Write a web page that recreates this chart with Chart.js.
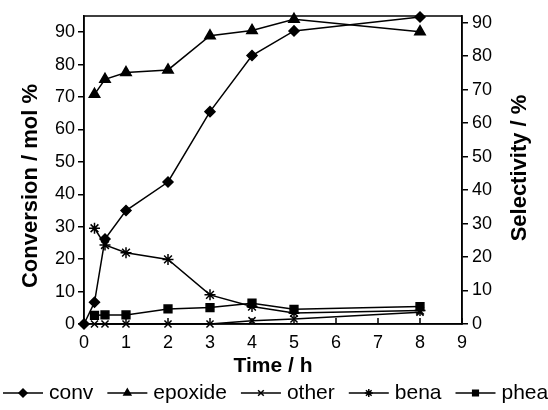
<!DOCTYPE html>
<html>
<head>
<meta charset="utf-8">
<script src="https://cdn.jsdelivr.net/npm/chart.js@4.4.0/dist/chart.umd.min.js"></script>
<style>
  body { margin: 0; background: #fff; }
</style>
</head>
<body>
<canvas id="mycanvas" width="548" height="410"></canvas>
<script>
// time in hours
var time = [0, 0.25, 0.5, 1, 2, 3, 4, 5, 8];
// conversion, mol % (left axis)
var conv = [0, 6.7, 26.2, 35, 43.8, 65.5, 82.8, 90.4, 94.7];
// selectivities, % (right axis)
var epoxide = [null, 68.6, 73.1, 75.1, 75.9, 86.1, 87.7, 91.0, 87.3];
var other = [null, 0, 0, 0, 0, 0, 1.0, 1.5, 3.5];
var bena = [null, 28.6, 23.6, 21.3, 19.3, 8.7, 5.2, 3.3, 4.0];
var phea = [null, 2.6, 2.7, 2.7, 4.5, 4.9, 6.2, 4.4, 5.2];
var yTicks = [0, 10, 20, 30, 40, 50, 60, 70, 80, 90];

var FONT = "'Liberation Sans', Arial, sans-serif";
Chart.defaults.font.family = FONT;
Chart.defaults.color = '#000';

function points(values) {
  var pts = [];
  for (var i in values) {
    if (values[i] !== null) pts.push({x: time[i], y: values[i]});
  }
  return pts;
}

function series(label, values, style, radius, axis) {
  return {
    label: label,
    data: points(values),
    yAxisID: axis,
    borderColor: '#000',
    backgroundColor: '#000',
    borderWidth: 1.5,
    pointStyle: style,
    pointRadius: radius,
    pointBorderWidth: 1.5,
    pointBackgroundColor: '#000',
    pointBorderColor: '#000',
    tension: 0,
    clip: false
  };
}

var datasets = [
  series('conv', conv, 'rectRot', 5, 'y'),
  series('epoxide', epoxide, 'triangle', 6, 'y1'),
  series('other', other, 'crossRot', 5, 'y1'),
  series('bena', bena, 'star', 5.5, 'y1'),
  series('phea', phea, 'rect', 5.5, 'y1')
];

function setTicks(scale) {
  scale.ticks = yTicks.map(function(v) { return {value: v}; });
}

function verticalTitle(ctx, text, x, y) {
  ctx.save();
  ctx.translate(x, y);
  ctx.rotate(-Math.PI / 2);
  ctx.font = 'bold 22px ' + FONT;
  ctx.fillStyle = '#000';
  ctx.textAlign = 'center';
  ctx.textBaseline = 'middle';
  ctx.fillText(text, 0, 0);
  ctx.restore();
}

var decor = {
  id: 'decor',
  beforeDatasetsDraw: function(chart) {
    var ctx = chart.ctx, a = chart.chartArea, xs = chart.scales.x;
    ctx.save();
    ctx.strokeStyle = '#000';
    ctx.lineWidth = 1.5;
    ctx.strokeRect(a.left, a.top, a.right - a.left, a.bottom - a.top);
    // inward x ticks
    xs.ticks.forEach(function(t) {
      var px = xs.getPixelForValue(t.value);
      ctx.beginPath();
      ctx.moveTo(px, a.bottom);
      ctx.lineTo(px, a.bottom - 6);
      ctx.stroke();
    });
    ctx.restore();
  },
  afterDraw: function(chart) {
    var ctx = chart.ctx;
    verticalTitle(ctx, 'Conversion / mol %', 31, 186);
    verticalTitle(ctx, 'Selectivity / %', 520, 168);

    // legend along the bottom
    ctx.save();
    ctx.font = '21px ' + FONT;
    ctx.textBaseline = 'middle';
    ctx.textAlign = 'left';
    var x = 3, y = 393;
    chart.data.datasets.forEach(function(ds) {
      ctx.strokeStyle = '#000';
      ctx.fillStyle = '#000';
      ctx.lineWidth = 1.5;
      ctx.beginPath();
      ctx.moveTo(x, y);
      ctx.lineTo(x + 40, y);
      ctx.stroke();
      Chart.helpers.drawPoint(ctx, {pointStyle: ds.pointStyle, radius: 4, rotation: 0, borderWidth: 1.5}, x + 20, y);
      ctx.fillStyle = '#000';
      ctx.fillText(ds.label, x + 46, y);
      x += 46 + ctx.measureText(ds.label).width + 14;
    });
    ctx.restore();
  }
};

var ctx = document.getElementById('mycanvas');

var chart = new Chart(ctx, {
  type: 'line',
  data: { datasets: datasets },
  plugins: [decor],
  options: {
    responsive: false,
    animation: false,
    layout: { padding: { top: 16, left: 0, right: 0, bottom: 0 } },
    plugins: { legend: { display: false }, tooltip: { enabled: false } },
    scales: {
      x: {
        type: 'linear', min: 0, max: 9,
        ticks: { stepSize: 1, color: '#000', font: { size: 18 }, padding: 8 },
        grid: { drawOnChartArea: false, drawTicks: false },
        border: { color: '#000', width: 1.5 },
        title: { display: true, text: 'Time / h', color: '#000', font: { size: 21, weight: 'bold' }, padding: { top: 0, bottom: 31 } },
        afterFit: function(s) { s.height = 86; }
      },
      y: {
        position: 'left', min: 0, max: 95,
        ticks: { color: '#000', font: { size: 18 }, padding: 3 },
        grid: { drawOnChartArea: false, color: '#000', tickLength: 6, lineWidth: 1.5 },
        border: { color: '#000', width: 1.5 },
        afterBuildTicks: setTicks,
        afterFit: function(s) { s.width = 84; }
      },
      y1: {
        position: 'right', min: 0, max: 92,
        ticks: { color: '#000', font: { size: 18 }, padding: 4 },
        grid: { drawOnChartArea: false, color: '#000', tickLength: 6, lineWidth: 1.5 },
        border: { color: '#000', width: 1.5 },
        afterBuildTicks: setTicks,
        afterFit: function(s) { s.width = 86; }
      }
    }
  }
});
</script>
</body>
</html>
